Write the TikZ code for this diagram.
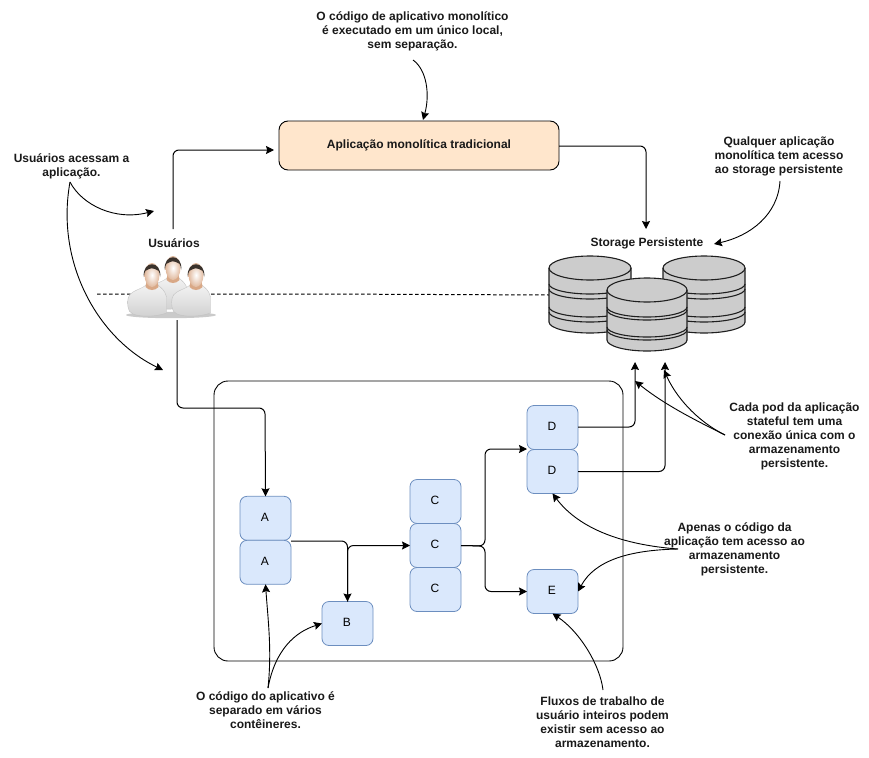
\documentclass[tikz,border=0pt]{standalone}
\usepackage{fontspec}
\setmainfont{Liberation Sans}
\usetikzlibrary{arrows.meta,calc}
\definecolor{blue6}{HTML}{6C8EBF}
\definecolor{blue1}{HTML}{DAE8FC}
\definecolor{peach}{HTML}{FFE6CC}
\definecolor{cylgray}{HTML}{CCCCCC}
\definecolor{skin}{HTML}{D9A886}
\definecolor{hairc}{HTML}{3A322C}
\tikzset{
  tip/.style={-{Stealth[length=8pt,width=8pt,inset=1.2pt]}},
  conn/.style={draw=black,line width=1pt,rounded corners=6pt,tip},
  curve/.style={draw=black,line width=0.9pt,tip},
  label/.style={font=\bfseries\fontsize{12}{14}\selectfont,align=center,inner sep=0pt,outer sep=0pt,text=black!90},
  pod/.style={draw=blue6,fill=blue1,line width=0.8pt,rounded corners=7pt,minimum width=51pt,minimum height=44pt,inner sep=0pt,outer sep=0pt,font=\fontsize{12}{14}\selectfont},
}
\newcommand{\podtext}[1]{\raisebox{1.8pt}{\kern-1.2pt #1}}
% half ellipse hanging below the chord x1--x2 at height y, sag s
\newcommand{\sagarc}[4]{%
  (#1,#3) .. controls (#1,{#3+.55*#4}) and ({(#1+#2)/2-.275*(#2-#1)},{#3+#4}) .. ({(#1+#2)/2},{#3+#4})
  .. controls ({(#1+#2)/2+.275*(#2-#1)},{#3+#4}) and (#2,{#3+.55*#4}) .. (#2,#3)}
\newcommand{\storagecyl}[8]{% x1 x2 centre-of-top ry band1 band2 band3 band4
  \fill[cylgray] (#1,#3) .. controls (#1,{#3-.55*#4}) and ({(#1+#2)/2-.275*(#2-#1)},{#3-#4}) .. ({(#1+#2)/2},{#3-#4})
    .. controls ({(#1+#2)/2+.275*(#2-#1)},{#3-#4}) and (#2,{#3-.55*#4}) .. (#2,#3)
    -- (#2,{#8+10}) .. controls (#2,{#8+10+.55*11}) and ({(#1+#2)/2+.275*(#2-#1)},{#8+21}) .. ({(#1+#2)/2},{#8+21})
    .. controls ({(#1+#2)/2-.275*(#2-#1)},{#8+21}) and (#1,{#8+10+.55*11}) .. (#1,{#8+10}) -- cycle;
  \draw[black!88,line width=1.1pt] (#1,{#8+10}) -- (#1,#3) .. controls (#1,{#3-.55*#4}) and ({(#1+#2)/2-.275*(#2-#1)},{#3-#4}) .. ({(#1+#2)/2},{#3-#4})
    .. controls ({(#1+#2)/2+.275*(#2-#1)},{#3-#4}) and (#2,{#3-.55*#4}) .. (#2,#3) -- (#2,{#8+10});
  \draw[black!88,line width=1.1pt] \sagarc{#1}{#2}{#3}{#4} \sagarc{#1}{#2}{#5}{10} \sagarc{#1}{#2}{#6}{10} \sagarc{#1}{#2}{#7}{10} \sagarc{#1}{#2}{#8}{10} \sagarc{#1}{#2}{#8+10}{11};
}
\newcommand{\person}[2]{% head centre x, head top y
  \begin{scope}[shift={(#1,#2)}]
    \shade[top color=black!5,bottom color=black!18,draw=black!24,line width=0.4pt]
      (-24,44) .. controls (-25,36) and (-24,32) .. (-19,29)
      .. controls (-14,26) and (-9,25) .. (-6,22) -- (6,22)
      .. controls (9,25) and (13,27) .. (14.5,34)
      -- (14.5,50) .. controls (4,54) and (-12,54) .. (-19,51)
      .. controls (-22,50) and (-24,47) .. (-24,44) -- cycle;
    \fill[skin] (-5,15) -- (5,15) -- (6.5,24) .. controls (3,28) and (-3,28) .. (-6.5,24) -- cycle;
    \shade[inner color=white,outer color=skin!80!white] (0,12) ellipse (7.5 and 12);
    \fill[hairc] (-8.2,14) .. controls (-10,-3) and (10,-3) .. (8.2,14)
      .. controls (7.5,8) and (6,6) .. (3,6) .. controls (1,5) and (-2,5) .. (-3,6)
      .. controls (-6,6) and (-7.5,8) .. (-8.2,14) -- cycle;
  \end{scope}
}
\begin{document}
\begin{tikzpicture}[x=1pt,y=-1pt]
\useasboundingbox (0,0) rectangle (869,757);

% container
\node[draw=black,line width=0.9pt,rounded corners=14pt,minimum width=409pt,minimum height=280pt,inner sep=0pt,outer sep=0pt] (pods) at (418.5,521) {};

% dashed line behind users and storage
\coordinate (dashL) at (97,294);
\coordinate (dashM) at (322,294);
\coordinate (dashR) at (549,295);
\draw[black,line width=1pt,dash pattern=on 3.5pt off 2.5pt] (dashL) -- (dashM) -- (dashR);

% storage
\storagecyl{549}{631}{268}{12}{284}{289}{307}{312}
\storagecyl{663}{745}{268}{12}{284}{289}{307}{312}
\storagecyl{607}{687}{290}{12}{307}{310}{327}{330}

% users icon
\fill[black!35,opacity=.6] (171,315) ellipse (45 and 3.2);
\person{173}{256}
\person{152}{263}
\person{196}{263}

% application
\node[draw=black,fill=peach,line width=0.9pt,rounded corners=9pt,minimum width=280pt,minimum height=49pt,inner sep=0pt,outer sep=0pt,label] (app) at (419,145.5) {\raisebox{1pt}{Aplicação monolítica tradicional}};

% pods
\node[pod] (a1) at (265.5,518.3) {\podtext{A}};
\node[pod] (a2) at (265.5,562.3) {\podtext{A}};
\node[pod] (b)  at (347.5,623.5) {\podtext{B}};
\node[pod] (c1) at (435.5,501.5) {\podtext{C}};
\node[pod] (c3) at (435.5,589.5) {\podtext{C}};
\node[pod] (c2) at (435.5,545.5) {\podtext{C}};
\node[pod] (d1) at (552.5,427.5) {\podtext{D}};
\node[pod] (d2) at (552.5,471.5) {\podtext{D}};
\node[pod] (e)  at (552.5,591.5) {\podtext{E}};

% labels
\node[label] (topnote) at (412.5,31.5) {O código de aplicativo monolítico\\é executado em um único local,\\sem separação.};
\node[label] (usernote) at (71.5,166) {Usuários acessam a\\aplicação.};
\node[label] (users) at (174,243.5) {Usuários};
\node[label] (storage) at (647,243.5) {Storage Persistente};
\node[label] (storenote) at (779,156.5) {Qualquer aplicação\\monolítica tem acesso\\ao storage persistente};
\node[label] (podnote) at (794.5,436.5) {Cada pod da aplicação\\stateful tem uma\\conexão única com o\\armazenamento\\persistente.};
\node[label] (codenote) at (734.5,549) {Apenas o código da\\aplicação tem acesso ao\\armazenamento\\persistente.};
\node[label] (flownote) at (602.5,722) {Fluxos de trabalho de\\usuário inteiros podem\\existir sem acesso ao\\armazenamento.};
\node[label] (sepnote) at (265.5,710) {O código do aplicativo é\\separado em vários\\contêineres.};

% free ends
\coordinate (uTop) at (173,229);
\coordinate (appIn) at (274,150);
\coordinate (stIn) at (646,229);
\coordinate (uBot) at (177,320);
\coordinate (tap1) at (635,362);
\coordinate (tap2) at (665,362);
\coordinate (topS) at (413,60);
\coordinate (unS) at (70,182);
\coordinate (unE1) at (154,211);
\coordinate (unE2) at (163,370);
\coordinate (stS) at (780,181);
\coordinate (stE) at (714,244);
\coordinate (pnS) at (725,435);
\coordinate (pnE1) at (635,381);
\coordinate (pnE2) at (664,370);
\coordinate (cnS) at (678,549);
\coordinate (flS) at (603,690);
\coordinate (seS) at (268,688);

% orthogonal connectors
\draw[conn] (uTop) |- (appIn);
\draw[conn] (app.east |- 0,146) -| (stIn);
\draw[conn] (uBot) |- (265,408) -- (a1.north);
\draw[conn] (a2.north east |- 0,541) -| (b.north);
\draw[conn] (b.north) |- (c2.west);
\draw[conn] (c2.east) -- (485,546) |- (d2.west |- 0,449);
\draw[conn] (c2.east) -- (485,546) |- (e.west);
\draw[conn] (d1.east |- 0,427) -| (tap1);
\draw[conn] (d2.east) -| (tap2);

% curved annotations
\draw[curve] (topS) .. controls (427,70) and (430,95) .. (423,120);
\draw[curve] (unS) .. controls (82,205) and (115,221) .. (unE1);
\draw[curve] (unS) .. controls (55,265) and (100,340) .. (unE2);
\draw[curve] (stS) .. controls (778,215) and (750,236) .. (stE);
\draw[curve] (pnS) .. controls (695,420) and (665,405) .. (pnE1);
\draw[curve] (pnS) .. controls (695,420) and (675,395) .. (pnE2);
\draw[curve] (cnS) .. controls (625,545) and (580,530) .. (d2.south);
\draw[curve] (cnS) .. controls (630,550) and (595,560) .. (e.east);
\draw[curve] (flS) .. controls (600,665) and (580,632) .. (e.south);
\draw[curve] (seS) .. controls (272,650) and (268,620) .. (a2.south);
\draw[curve] (seS) .. controls (275,650) and (295,632) .. (b.west);
\end{tikzpicture}
\end{document}
